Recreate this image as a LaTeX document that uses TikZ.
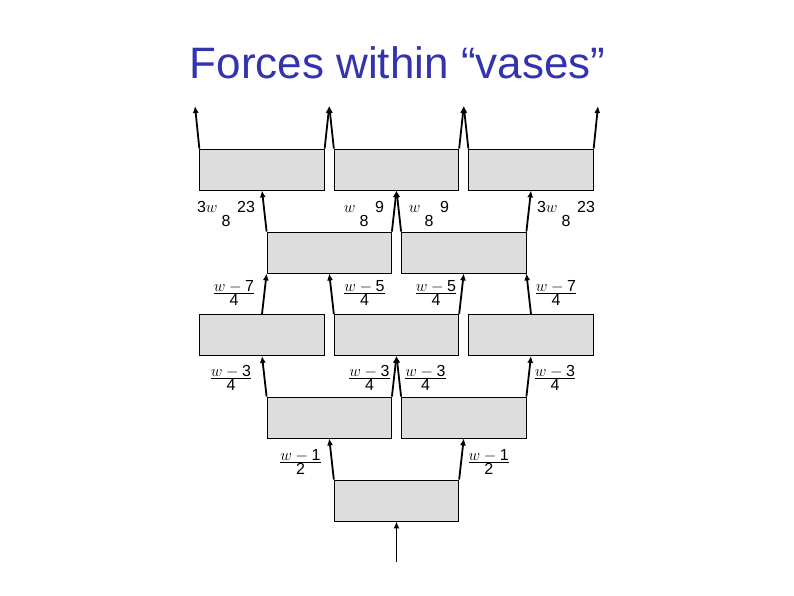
\RequirePackage{fix-cm}
\documentclass[tikz,border=0pt]{standalone}
\usepackage{amsmath}
\usepackage{fontspec}
\setsansfont{Liberation Sans}
\usetikzlibrary{arrows.meta}
\definecolor{titleblue}{RGB}{51,51,176}
\definecolor{vasegray}{RGB}{221,221,221}
\newcommand{\tfr}[2]{\genfrac{}{}{}{1}{\textstyle #1}{\textstyle #2}}
\newcommand{\nfr}[2]{\genfrac{}{}{0pt}{1}{\textstyle #1}{\textstyle #2}}

\begin{document}
\begin{tikzpicture}[x=1pt, y=-1pt,
    vase/.style={draw, line width=0.8pt, fill=vasegray, minimum width=124.5pt, minimum height=41pt, inner sep=0pt},
    force/.style={-{Latex[length=7pt,width=6pt]}, line width=1.8pt},
    lbl/.style={inner sep=0pt, font=\fontsize{16}{18}\selectfont}
]
    \useasboundingbox (0,0) rectangle (794,595);

    % title
    \node[anchor=base, inner sep=0pt, text=titleblue, font=\sffamily\fontsize{44}{48}\selectfont] (title) at (397.5,78) {Forces within “vases”};

    % blocks, top row to bottom
    \node[vase] (t1) at (262,169.5) {};
    \node[vase] (t2) at (396.5,169.5) {};
    \node[vase] (t3) at (531,169.5) {};
    \node[vase] (s1) at (329.25,252.5) {};
    \node[vase] (s2) at (463.75,252.5) {};
    \node[vase] (m1) at (262,335) {};
    \node[vase] (m2) at (396.5,335) {};
    \node[vase] (m3) at (531,335) {};
    \node[vase] (f1) at (329.25,417.5) {};
    \node[vase] (f2) at (463.75,417.5) {};
    \node[vase] (b) at (396.5,500.5) {};

    % free ends
    \coordinate (tip1) at (195,106);
    \coordinate (tip2) at (329.25,106);
    \coordinate (tip3) at (463.75,106);
    \coordinate (tip4) at (598,106);
    \coordinate (base) at (396.5,562);

    % forces
    \draw[force] (t1.north west) -- (tip1);
    \draw[force] (t1.north east) -- (tip2);
    \draw[force] (t2.north west) -- (tip2);
    \draw[force] (t2.north east) -- (tip3);
    \draw[force] (t3.north west) -- (tip3);
    \draw[force] (t3.north east) -- (tip4);

    \draw[force] (s1.north west) -- (t1.south);
    \draw[force] (s1.north east) -- (t2.south);
    \draw[force] (s2.north west) -- (t2.south);
    \draw[force] (s2.north east) -- (t3.south);

    \draw[force] (m1.north) -- (s1.south west);
    \draw[force] (m2.north west) -- (s1.south);
    \draw[force] (m2.north east) -- (s2.south);
    \draw[force] (m3.north) -- (s2.south east);

    \draw[force] (f1.north west) -- (m1.south);
    \draw[force] (f1.north east) -- (m2.south);
    \draw[force] (f2.north west) -- (m2.south);
    \draw[force] (f2.north east) -- (m3.south);

    \draw[force] (b.north west) -- (f1.south);
    \draw[force] (b.north east) -- (f2.south);
    \draw[force] (base) -- (b.south);

    % labels
    \node[lbl] (lt1) at (226,214) {$\nfr{\mathsf{3}w\mathbin{\phantom{-}}\mathsf{23}}{\mathsf{8}}$};
    \node[lbl] (lt2) at (364,214) {$\nfr{w\mathbin{\phantom{-}}\mathsf{9}}{\mathsf{8}}$};
    \node[lbl] (lt3) at (429,214) {$\nfr{w\mathbin{\phantom{-}}\mathsf{9}}{\mathsf{8}}$};
    \node[lbl] (lt4) at (566,214) {$\nfr{\mathsf{3}w\mathbin{\phantom{-}}\mathsf{23}}{\mathsf{8}}$};

    \node[lbl] (ls1) at (234,293) {$\tfr{w-\mathsf{7}}{\mathsf{4}}$};
    \node[lbl] (ls2) at (364.5,293) {$\tfr{w-\mathsf{5}}{\mathsf{4}}$};
    \node[lbl] (ls3) at (436,293) {$\tfr{w-\mathsf{5}}{\mathsf{4}}$};
    \node[lbl] (ls4) at (556,293) {$\tfr{w-\mathsf{7}}{\mathsf{4}}$};

    \node[lbl] (lm1) at (231,378) {$\tfr{w-\mathsf{3}}{\mathsf{4}}$};
    \node[lbl] (lm2) at (369.5,378) {$\tfr{w-\mathsf{3}}{\mathsf{4}}$};
    \node[lbl] (lm3) at (425.5,378) {$\tfr{w-\mathsf{3}}{\mathsf{4}}$};
    \node[lbl] (lm4) at (555,378) {$\tfr{w-\mathsf{3}}{\mathsf{4}}$};

    \node[lbl] (lf1) at (300.5,462) {$\tfr{w-\mathsf{1}}{\mathsf{2}}$};
    \node[lbl] (lf2) at (488.7,462) {$\tfr{w-\mathsf{1}}{\mathsf{2}}$};
\end{tikzpicture}
\end{document}
